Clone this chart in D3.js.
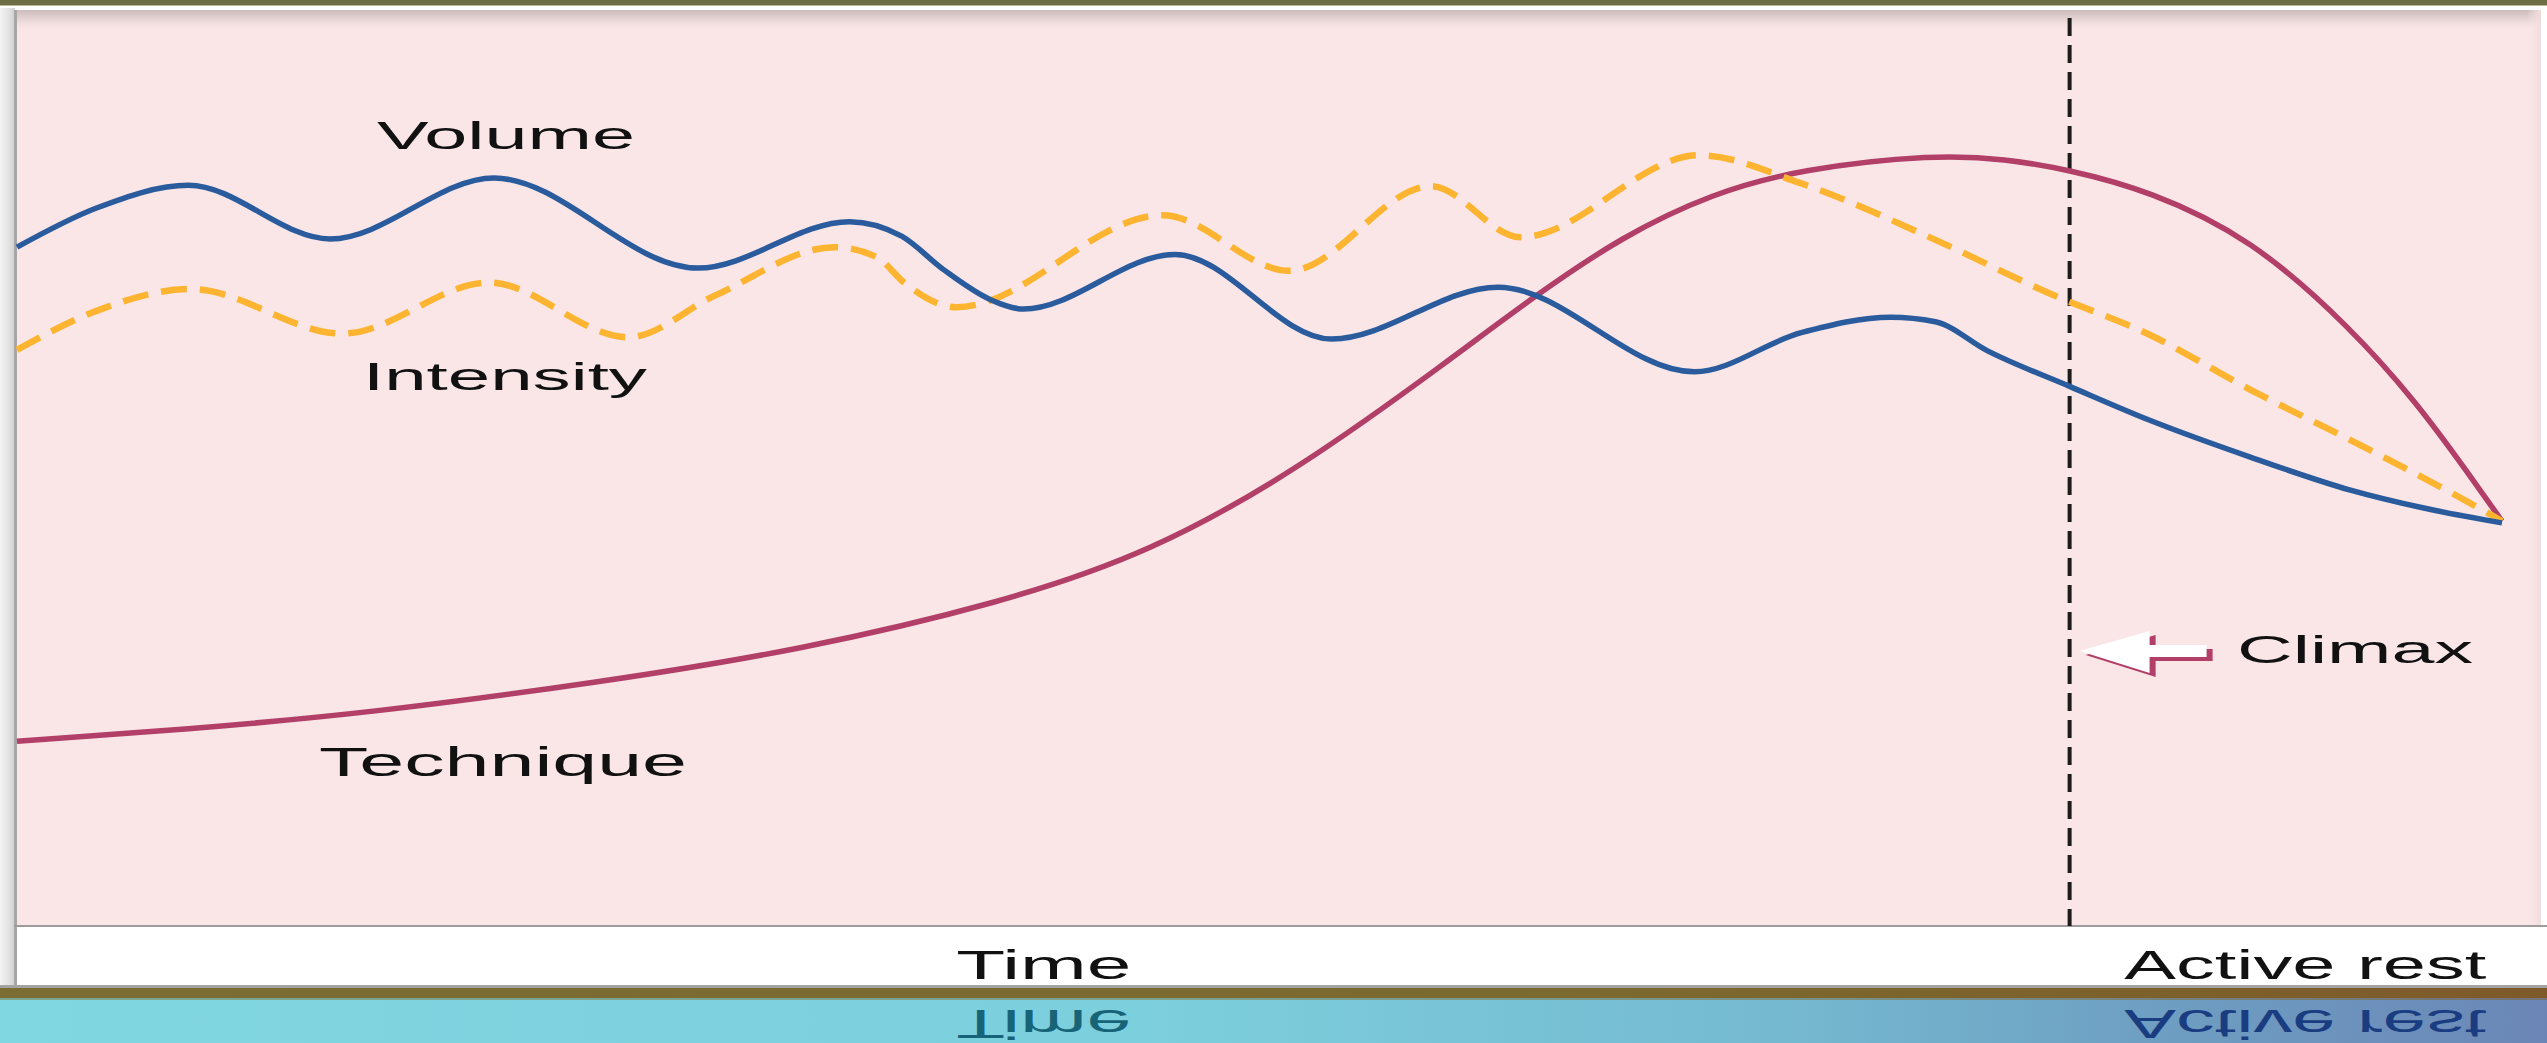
<!DOCTYPE html>
<html>
<head>
<meta charset="utf-8">
<script src="https://cdn.jsdelivr.net/npm/d3@7"></script>
<style>
  html, body { margin: 0; padding: 0; background: #ffffff; overflow: hidden; }
  svg { display: block; }
</style>
</head>
<body>
<svg id="chart" width="2547" height="1043"></svg>
<script>
// ---------- DATA (time 0-100, level 0-100) ----------
const volume = [
  [0, 74.6], [3.2, 78.9], [6.9, 81.4], [12.6, 75.5], [19.2, 82.2], [27.4, 72.3],
  [33.5, 77.4], [35.6, 75.8], [37.3, 72.1], [39.2, 68.8], [40.5, 67.8], [46.6, 73.8],
  [52.9, 64.5], [59.6, 70.2], [67.5, 60.9], [71.8, 65.2], [75.4, 66.9],
  [77.2, 66.4], [79.3, 63.2], [82.6, 59.3], [85.8, 55.6], [89.9, 51.5],
  [93.9, 47.9], [96.9, 45.9], [100, 44.3]
];
const intensity = [
  [0, 63.3], [3.2, 67.6], [7.0, 70.0], [13.1, 65.1], [19.0, 70.7], [24.6, 64.7],
  [28.1, 69.3], [32.9, 74.6], [34.6, 73.5], [35.7, 70.7], [37.8, 68.0], [46.1, 78.1],
  [51.2, 72.0], [56.9, 81.3], [60.5, 75.7], [67.7, 84.7], [71.8, 81.6], [77.2, 75.4],
  [81.8, 69.5], [85.8, 65.0], [89.9, 58.9], [93.9, 53.4], [97.9, 47.7], [100, 44.5]
];
const technique = [
  [0, 20.3], [6.8, 21.6], [14.2, 23.4], [23.5, 26.8], [31.5, 30.3], [39.6, 35.5],
  [45.6, 41.0], [51.6, 50.2], [57.7, 62.3], [61.0, 69.1], [64.6, 75.8], [68.2, 80.5],
  [71.8, 83.2], [77.2, 84.8], [80.0, 84.3], [82.6, 83.1], [85.8, 80.8], [89.9, 75.6],
  [93.9, 65.8], [96.6, 57.4], [98.6, 49.9], [100, 44.5]
];
const climaxTime = 82.6;
const seriesNames = ["Volume", "Intensity", "Technique"];
const phaseLabels = ["Time", "Active rest"];
const climaxLabel = "Climax";

// ---------- LAYOUT ----------
const W = 2547, H = 1043;
const panel = { left: 17, top: 10, right: 2541, bottom: 926 };
const svg = d3.select("#chart");
const defs = svg.append("defs");

const x = d3.scaleLinear().domain([0, 100]).range([17, 2502]);
const y = d3.scaleLinear().domain([0, 100]).range([926, 16]);

const FONT = "'Liberation Sans', Arial, Helvetica, sans-serif";

function lg(id, x1, y1, x2, y2, stops) {
  const g = defs.append("linearGradient").attr("id", id)
    .attr("x1", x1).attr("y1", y1).attr("x2", x2).attr("y2", y2);
  stops.forEach(s => g.append("stop").attr("offset", s[0]).attr("stop-color", s[1]).attr("stop-opacity", s[2] == null ? 1 : s[2]));
}
lg("topShadow", 0, 0, 0, 1, [[0, "#cdbcbd"], [0.45, "#e8d6d7"], [1, "#fae6e7", 0]]);
lg("rightShadow", 0, 0, 1, 0, [[0, "#fae6e7", 0], [1, "#f1dcdd"]]);
lg("leftFrame", 0, 0, 1, 0, [[0, "#f4f4f4"], [0.6, "#e2e2e2"], [1, "#cfcfcf"]]);
lg("cyanBand", 0, 0, 1, 0, [[0, "#80d6e1"], [0.45, "#7ccfdd"], [0.7, "#75b9d0"], [0.85, "#6e9ec2"], [1, "#6b86b6"]]);
lg("brownBand", 0, 0, 1, 0, [[0, "#7a6c33"], [0.6, "#7b6a30"], [1, "#7e5a2a"]]);

// ---------- BACKGROUND / FRAME ----------
svg.append("rect").attr("x", 0).attr("y", 0).attr("width", W).attr("height", H).attr("fill", "#ffffff");
svg.append("rect").attr("x", 0).attr("y", 0).attr("width", W).attr("height", 5).attr("fill", "#6c6f43");
svg.append("rect").attr("x", 0).attr("y", 5).attr("width", W).attr("height", 1).attr("fill", "#b9b79a");
svg.append("rect").attr("x", 0).attr("y", 8).attr("width", 15).attr("height", 978).attr("fill", "url(#leftFrame)");
svg.append("rect").attr("x", 14).attr("y", 10).attr("width", 3).attr("height", 976).attr("fill", "#a6a6a6");
svg.append("rect").attr("x", panel.left).attr("y", panel.top)
  .attr("width", panel.right - panel.left).attr("height", panel.bottom - panel.top).attr("fill", "#fae6e7");
svg.append("rect").attr("x", panel.left).attr("y", panel.top)
  .attr("width", panel.right - panel.left).attr("height", 22).attr("fill", "url(#topShadow)");
svg.append("rect").attr("x", panel.right - 14).attr("y", panel.top)
  .attr("width", 14).attr("height", panel.bottom - panel.top).attr("fill", "url(#rightShadow)");
svg.append("rect").attr("x", 14).attr("y", 925).attr("width", W - 14).attr("height", 2).attr("fill", "#9c9c9c");
svg.append("rect").attr("x", 0).attr("y", 985).attr("width", W).attr("height", 3).attr("fill", "#a3a3a3");
svg.append("rect").attr("x", 0).attr("y", 988).attr("width", W).attr("height", H - 988).attr("fill", "url(#cyanBand)");
svg.append("rect").attr("x", 0).attr("y", 988).attr("width", W).attr("height", 12).attr("fill", "url(#brownBand)");
svg.append("rect").attr("x", 0).attr("y", 998).attr("width", W).attr("height", 5).attr("fill", "url(#cyanBand)").attr("opacity", 0.55);

// ---------- CLIMAX DASHED LINE ----------
svg.append("line")
  .attr("x1", x(climaxTime)).attr("x2", x(climaxTime))
  .attr("y1", panel.top + 8).attr("y2", panel.bottom)
  .attr("stroke", "#1c1c1c").attr("stroke-width", 4)
  .attr("stroke-dasharray", "18 9");

// ---------- CURVES ----------
const waveLine = d3.line()
  .x(d => x(d[0])).y(d => y(d[1]))
  .curve(d3.curveMonotoneX);
const smoothLine = d3.line()
  .x(d => x(d[0])).y(d => y(d[1]))
  .curve(d3.curveBasis);

svg.append("path").datum(technique).attr("d", smoothLine)
  .attr("fill", "none").attr("stroke", "#b23f68").attr("stroke-width", 5.5).attr("stroke-linejoin", "round");
svg.append("path").datum(intensity).attr("d", waveLine)
  .attr("fill", "none").attr("stroke", "#fcb431").attr("stroke-width", 6.5)
  .attr("stroke-dasharray", "26 13");
svg.append("path").datum(volume).attr("d", waveLine)
  .attr("fill", "none").attr("stroke", "#2a5b9c").attr("stroke-width", 5.5).attr("stroke-linejoin", "round");

// ---------- CLIMAX ARROW ----------
const cx = x(climaxTime);
const arrowPts = [[cx + 10, 651], [cx + 80, 631], [cx + 80, 645], [cx + 137, 645], [cx + 137, 657], [cx + 80, 657], [cx + 80, 673]];
svg.append("polygon").attr("points", arrowPts.map(p => [p[0] + 6, p[1] + 4].join(",")).join(" "))
  .attr("fill", "#b23f68");
svg.append("polygon").attr("points", arrowPts.map(p => p.join(",")).join(" "))
  .attr("fill", "#ffffff");

// ---------- TEXT ----------
function stretchedText(g, str, left, baseline, width, size, fill) {
  return g.append("text").attr("x", left).attr("y", baseline)
    .attr("font-family", FONT).attr("font-size", size).attr("fill", fill)
    .attr("textLength", width).attr("lengthAdjust", "spacingAndGlyphs")
    .text(str);
}
const labels = svg.append("g");
stretchedText(labels, seriesNames[0], 377, 149, 258, 39, "#111111");
stretchedText(labels, seriesNames[1], 363, 390, 284, 39, "#111111");
stretchedText(labels, seriesNames[2], 319, 776, 368, 40, "#111111");
stretchedText(labels, climaxLabel, 2237, 663, 236, 39, "#111111");

const timeCenter = (panel.left + cx) / 2;
const restCenter = (cx + panel.right) / 2;
stretchedText(labels, phaseLabels[0], timeCenter - 87, 979, 175, 40, "#111111");
stretchedText(labels, phaseLabels[1], restCenter - 181, 979, 362, 40, "#111111");

// mirrored reflection of the axis labels in the bottom band
const refl = svg.append("g").attr("transform", "translate(0," + (2 * 994.5) + ") scale(1,-1)");
stretchedText(refl, phaseLabels[0], timeCenter - 87, 979, 175, 40, "#176478");
stretchedText(refl, phaseLabels[1], restCenter - 181, 979, 362, 40, "#1a3c80");
</script>
</body>
</html>
